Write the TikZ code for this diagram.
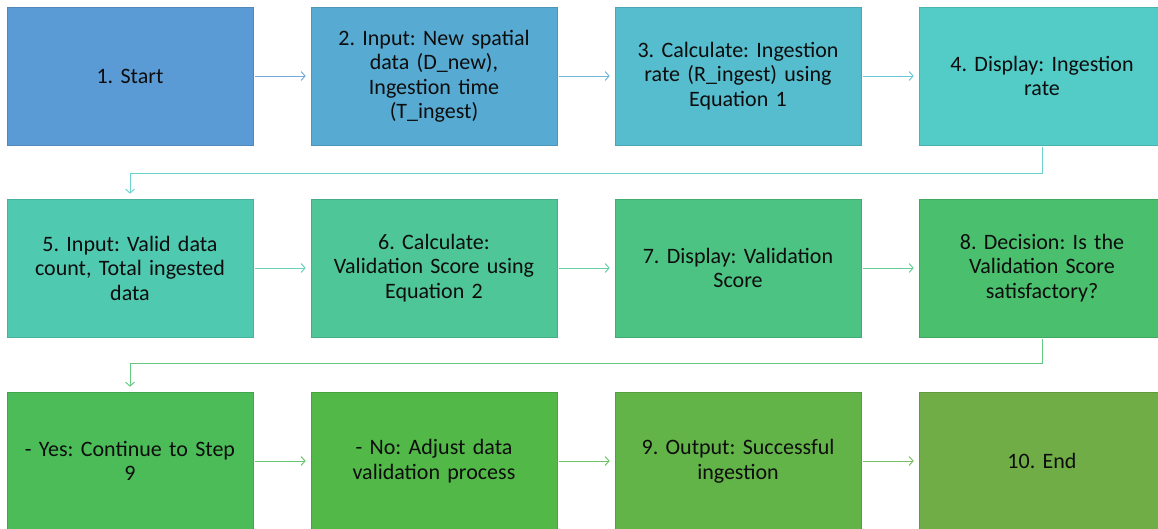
\documentclass[tikz,border=0pt]{standalone}
\usepackage{fontspec}
\setmainfont{Carlito}
\usetikzlibrary{arrows.meta}

% fill colours, blue to green along the flow
\definecolor{c1}{RGB}{91,155,213}
\definecolor{c2}{RGB}{87,170,210}
\definecolor{c3}{RGB}{85,189,206}
\definecolor{c4}{RGB}{83,203,199}
\definecolor{c5}{RGB}{80,201,177}
\definecolor{c6}{RGB}{78,198,152}
\definecolor{c7}{RGB}{76,195,131}
\definecolor{c8}{RGB}{74,191,109}
\definecolor{c9}{RGB}{75,188,88}
\definecolor{c10}{RGB}{82,185,72}
\definecolor{c11}{RGB}{98,179,72}
\definecolor{c12}{RGB}{112,173,71}

\tikzset{
  stepbox/.style={rectangle, fill=#1, draw=#1!88!black, line width=0.6pt,
    minimum width=246pt, minimum height=138pt, text width=240pt,
    align=center, inner sep=0pt, text=black!95,
    font=\fontsize{22}{24.5}\selectfont\frenchspacing},
  link/.style={draw=#1!85!white, line width=1pt,
    -{Straight Barb[length=4pt,width=9pt]}, shorten <=2pt, shorten >=5pt}
}

\begin{document}
\begin{tikzpicture}[x=1pt,y=-1pt]
\useasboundingbox (0,0) rectangle (1158,528);
\clip (0,0) rectangle (1158,528);

% row 1
\node[stepbox=c1]  (s1)  at (130,76)  {1. Start};
\node[stepbox=c2]  (s2)  at (434,76)  {2. Input: New spatial\\ data (D\_new),\\ Ingestion time\\ (T\_ingest)};
\node[stepbox=c3]  (s3)  at (738,76)  {3. Calculate: Ingestion\\ rate (R\_ingest) using\\ Equation 1};
\node[stepbox=c4]  (s4)  at (1042,76) {4. Display: Ingestion\\ rate};

% row 2
\node[stepbox=c5]  (s5)  at (130,268)  {5. Input: Valid data\\ count, Total ingested\\ data};
\node[stepbox=c6]  (s6)  at (434,268)  {6. Calculate:\\ Validation Score using\\ Equation 2};
\node[stepbox=c7]  (s7)  at (738,268)  {7. Display: Validation\\ Score};
\node[stepbox=c8]  (s8)  at (1042,268) {8. Decision: Is the\\ Validation Score\\ satisfactory?};

% row 3
\node[stepbox=c9]  (s9)  at (130,461)  {- Yes: Continue to Step\\ 9};
\node[stepbox=c10] (s10) at (434,461)  {- No: Adjust data\\ validation process};
\node[stepbox=c11] (s11) at (738,461)  {9. Output: Successful\\ ingestion};
\node[stepbox=c12] (s12) at (1042,461) {10. End};

% connectors
\draw[link=c1]  (s1) -- (s2);
\draw[link=c2]  (s2) -- (s3);
\draw[link=c3]  (s3) -- (s4);
\draw[link=c4]  (s4.south) -- ++(0,28) -| (s5.north);
\draw[link=c5]  (s5) -- (s6);
\draw[link=c6]  (s6) -- (s7);
\draw[link=c7]  (s7) -- (s8);
\draw[link=c8]  (s8.south) -- ++(0,26) -| (s9.north);
\draw[link=c9]  (s9) -- (s10);
\draw[link=c10] (s10) -- (s11);
\draw[link=c11] (s11) -- (s12);
\end{tikzpicture}
\end{document}
